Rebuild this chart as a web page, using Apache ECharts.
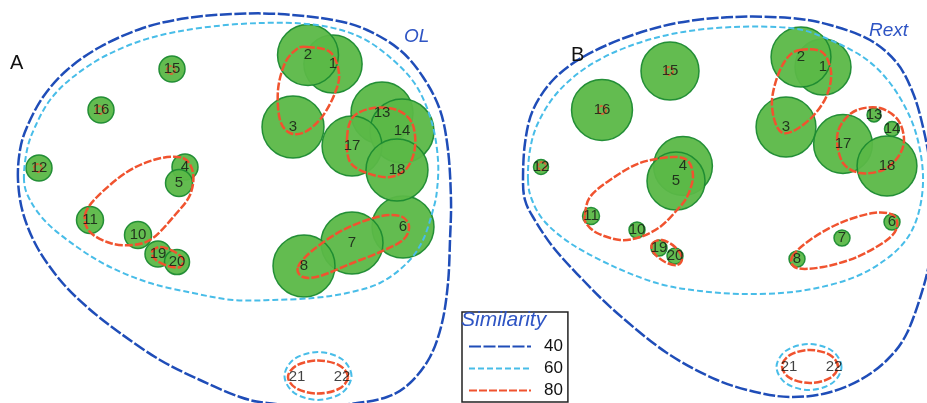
<!DOCTYPE html>
<html>
<head>
<meta charset="utf-8">
<script src="https://cdn.jsdelivr.net/npm/echarts@6/dist/echarts.min.js"></script>
<style>
  html, body { margin: 0; padding: 0; background: #fff; }
  #chart { width: 927px; height: 403px; }
</style>
</head>
<body>
<div id="chart"></div>
<script>
// Sample identifiers (no sample 9)
const samples = ['1','2','3','4','5','6','7','8','10','11','12','13','14','15','16','17','18','19','20','21','22'];

// MDS ordination coordinates and bubble values, panel A (OL)
const olX = [1.01, 0.76, 0.61, -0.47, -0.53, 1.71, 1.20, 0.72, -0.94, -1.42, -1.93, 1.50, 1.70, -0.60, -1.31, 1.20, 1.65, -0.74, -0.55, 0.65, 1.10];
const olY = [1.36, 1.45, 0.73, 0.33, 0.17, -0.27, -0.43, -0.66, -0.35, -0.20, 0.32, 0.87, 0.69, 1.31, 0.90, 0.54, 0.30, -0.54, -0.62, -1.77, -1.77];
const olValue = [53, 58, 60, 10.6, 11.4, 60, 60, 60, 11.4, 11.4, 10.6, 60, 64, 10.6, 10.6, 56, 60, 10.6, 9.8, 0, 0];

// MDS ordination coordinates and bubble values, panel B (Rext)
const rextX = [1.27, 1.05, 0.90, -0.13, -0.20, 1.96, 1.46, 1.01, -0.59, -1.05, -1.55, 1.78, 1.96, -0.26, -0.94, 1.47, 1.91, -0.37, -0.21, 0.93, 1.38];
const rextY = [1.33, 1.43, 0.73, 0.34, 0.19, -0.22, -0.38, -0.59, -0.30, -0.16, 0.33, 0.85, 0.71, 1.29, 0.90, 0.56, 0.34, -0.48, -0.56, -1.67, -1.67];
const rextValue = [49, 56, 56, 54, 52.6, 4, 4, 4, 4, 4.5, 3.5, 3, 3.5, 52.6, 58, 54, 56, 4, 4, 0, 0];

// Similarity contours, panel A
const olContour40 = [[-2.14,0.20],[-2.12,0.50],[-2.05,0.73],[-1.89,1.03],[-1.65,1.30],[-1.32,1.53],[-0.89,1.72],[-0.45,1.82],[0.01,1.86],[0.48,1.86],[1.01,1.80],[1.35,1.70],[1.68,1.50],[1.91,1.23],[2.08,0.90],[2.16,0.50],[2.19,0.00],[2.18,-0.40],[2.16,-0.83],[2.10,-1.23],[1.98,-1.57],[1.78,-1.83],[1.55,-1.97],[1.18,-2.04],[0.78,-2.06],[0.35,-2.03],[0.08,-1.97],[-0.32,-1.80],[-0.72,-1.60],[-1.12,-1.33],[-1.45,-1.07],[-1.72,-0.80],[-1.95,-0.47],[-2.09,-0.13]];
const olContour60 = [
  [[-2.08,0.20],[-2.05,0.50],[-1.97,0.73],[-1.82,1.00],[-1.59,1.23],[-1.25,1.45],[-0.82,1.62],[-0.32,1.72],[0.28,1.77],[0.85,1.75],[1.28,1.63],[1.61,1.40],[1.85,1.13],[2.00,0.77],[2.06,0.40],[2.05,0.10],[2.01,-0.10],[1.91,-0.40],[1.75,-0.63],[1.48,-0.83],[1.15,-0.93],[0.81,-0.98],[0.41,-1.00],[0.01,-1.00],[-0.39,-0.93],[-0.82,-0.83],[-1.22,-0.67],[-1.55,-0.47],[-1.85,-0.23],[-2.02,0.00]],
  [[1.195,-1.76],[1.097,-1.59],[0.86,-1.52],[0.623,-1.59],[0.525,-1.76],[0.623,-1.93],[0.86,-2.00],[1.097,-1.93]]
];
const olContour80 = [
  [[0.75,1.53],[0.98,1.48],[1.07,1.27],[1.03,1.07],[0.90,0.83],[0.73,0.68],[0.58,0.67],[0.48,0.80],[0.46,1.10],[0.53,1.37],[0.65,1.51]],
  [[1.15,0.62],[1.21,0.83],[1.41,0.92],[1.65,0.90],[1.80,0.77],[1.83,0.53],[1.75,0.32],[1.58,0.23],[1.35,0.27],[1.18,0.38]],
  [[0.66,-0.67],[0.81,-0.50],[1.11,-0.30],[1.45,-0.17],[1.68,-0.16],[1.77,-0.26],[1.71,-0.40],[1.48,-0.52],[1.18,-0.64],[0.88,-0.76],[0.71,-0.77]],
  [[-1.47,-0.15],[-1.35,0.03],[-1.05,0.28],[-0.75,0.41],[-0.49,0.42],[-0.39,0.27],[-0.42,0.05],[-0.57,-0.15],[-0.79,-0.38],[-0.99,-0.45],[-1.22,-0.43],[-1.42,-0.32]],
  [[-0.80,-0.52],[-0.72,-0.47],[-0.59,-0.51],[-0.49,-0.59],[-0.52,-0.67],[-0.64,-0.66],[-0.76,-0.60]],
  [[1.16,-1.77],[1.072,-1.653],[0.86,-1.605],[0.648,-1.653],[0.56,-1.77],[0.648,-1.887],[0.86,-1.935],[1.072,-1.887]]
];
// single-sample groups at 80% similarity, panel A
const olSingles80 = [[-0.61,1.30],[-1.32,0.90],[-1.94,0.32]];

// Similarity contours, panel B
const rextContour40 = [[-1.73,0.20],[-1.71,0.57],[-1.63,0.90],[-1.43,1.20],[-1.13,1.43],[-0.69,1.63],[-0.19,1.77],[0.37,1.83],[0.94,1.82],[1.34,1.75],[1.74,1.60],[2.01,1.37],[2.17,1.07],[2.27,0.73],[2.34,0.35],[2.37,-0.10],[2.35,-0.50],[2.28,-0.85],[2.11,-1.33],[1.91,-1.60],[1.64,-1.80],[1.31,-1.93],[0.97,-1.97],[0.64,-1.93],[0.21,-1.80],[-0.29,-1.53],[-0.79,-1.13],[-1.13,-0.80],[-1.43,-0.47],[-1.63,-0.17],[-1.71,0.00]];
const rextContour60 = [
  [[-1.68,0.20],[-1.66,0.50],[-1.58,0.77],[-1.39,1.07],[-1.09,1.33],[-0.69,1.53],[-0.19,1.67],[0.37,1.73],[0.94,1.72],[1.27,1.63],[1.67,1.43],[1.94,1.17],[2.14,0.83],[2.24,0.50],[2.27,0.17],[2.22,-0.15],[2.10,-0.40],[1.89,-0.60],[1.59,-0.77],[1.21,-0.88],[0.85,-0.93],[0.44,-0.94],[0.04,-0.91],[-0.36,-0.84],[-0.79,-0.68],[-1.23,-0.45],[-1.51,-0.22],[-1.64,0.00]],
  [[1.455,-1.67],[1.36,-1.507],[1.13,-1.44],[0.90,-1.507],[0.805,-1.67],[0.90,-1.833],[1.13,-1.90],[1.36,-1.833]]
];
const rextContour80 = [
  [[1.04,1.50],[1.26,1.48],[1.35,1.28],[1.31,1.05],[1.18,0.85],[1.01,0.71],[0.87,0.67],[0.79,0.78],[0.76,1.00],[0.82,1.25],[0.92,1.43]],
  [[1.41,0.60],[1.46,0.77],[1.61,0.90],[1.84,0.92],[2.02,0.80],[2.08,0.60],[2.02,0.43],[1.87,0.30],[1.64,0.27],[1.47,0.37]],
  [[0.96,-0.57],[1.14,-0.40],[1.44,-0.23],[1.77,-0.13],[1.97,-0.15],[2.01,-0.27],[1.91,-0.40],[1.61,-0.57],[1.27,-0.67],[1.01,-0.68]],
  [[-1.11,-0.15],[-1.06,0.03],[-0.86,0.20],[-0.56,0.37],[-0.23,0.43],[-0.08,0.39],[-0.03,0.23],[-0.09,0.03],[-0.19,-0.10],[-0.36,-0.27],[-0.56,-0.37],[-0.76,-0.40],[-0.99,-0.33],[-1.10,-0.23]],
  [[-0.44,-0.44],[-0.34,-0.40],[-0.21,-0.47],[-0.14,-0.58],[-0.19,-0.65],[-0.31,-0.62],[-0.42,-0.53]],
  [[1.42,-1.665],[1.338,-1.548],[1.14,-1.50],[0.942,-1.548],[0.86,-1.665],[0.942,-1.782],[1.14,-1.83],[1.338,-1.782]]
];
const rextSingles80 = [[-0.27,1.29],[-0.94,0.90],[-1.54,0.34]];

const levels = ['40', '60', '80'];

// Line styles of each similarity level
const levelStyle = {
  '40': { color: '#1f4db8', width: 2.5, dash: [12, 2.5] },
  '60': { color: '#48bde8', width: 2, dash: [6, 3] },
  '80': { color: '#f0532f', width: 2.5, dash: [8, 2] }
};

const FONT = '"Liberation Sans", Arial, sans-serif';

function bubbleSeries(xs, ys, vals, gi) {
  return {
    type: 'scatter', xAxisIndex: gi, yAxisIndex: gi, z: 2, silent: true,
    data: samples.map((s, i) => ({ name: s, value: [xs[i], ys[i], vals[i]] })),
    symbolSize: v => 8 * Math.sqrt(v[2]),
    itemStyle: { color: '#5bb847', borderColor: '#1b8a30', borderWidth: 1.5, opacity: 0.95 }
  };
}

function labelSeries(xs, ys, gi) {
  return {
    type: 'scatter', xAxisIndex: gi, yAxisIndex: gi, z: 6, silent: true,
    data: samples.map((s, i) => ({ name: s, value: [xs[i], ys[i]] })),
    symbolSize: 2,
    itemStyle: { color: 'rgba(0,0,0,0)' },
    label: {
      show: true, position: 'inside', formatter: p => p.name,
      color: '#111', fontSize: 15, fontFamily: FONT
    }
  };
}

// Closed Catmull-Rom curve through the contour points (in pixel space)
function closedCurvePath(p) {
  const n = p.length;
  let d = 'M' + p[0][0] + ' ' + p[0][1];
  for (let i = 0; i < n; i++) {
    const p0 = p[(i - 1 + n) % n], p1 = p[i], p2 = p[(i + 1) % n], p3 = p[(i + 2) % n];
    const c1x = p1[0] + (p2[0] - p0[0]) / 6, c1y = p1[1] + (p2[1] - p0[1]) / 6;
    const c2x = p2[0] - (p3[0] - p1[0]) / 6, c2y = p2[1] - (p3[1] - p1[1]) / 6;
    d += 'C' + c1x + ' ' + c1y + ' ' + c2x + ' ' + c2y + ' ' + p2[0] + ' ' + p2[1];
  }
  return d + 'Z';
}

function contourSeries(points, level, gi) {
  const st = levelStyle[level];
  return {
    type: 'custom', xAxisIndex: gi, yAxisIndex: gi, silent: true,
    name: 'contour-' + level,
    z: level === '80' ? 4 : 3,
    data: points,
    renderItem: function (params, api) {
      if (params.dataIndex !== 0) return null;
      const pts = points.map(q => api.coord(q));
      return {
        type: 'path',
        shape: { pathData: closedCurvePath(pts) },
        style: { fill: 'none', stroke: st.color, lineWidth: st.width, lineDash: st.dash }
      };
    }
  };
}

function singlesSeries(points, gi) {
  const st = levelStyle['80'];
  return {
    type: 'scatter', xAxisIndex: gi, yAxisIndex: gi, z: 4, silent: true,
    data: points, symbolSize: 8,
    itemStyle: { color: 'rgba(0,0,0,0)', borderColor: st.color, borderWidth: 2, borderType: [3, 1] }
  };
}

const series = [];
series.push(bubbleSeries(olX, olY, olValue, 0));
series.push(bubbleSeries(rextX, rextY, rextValue, 1));
series.push(contourSeries(olContour40, '40', 0));
olContour60.forEach(c => series.push(contourSeries(c, '60', 0)));
olContour80.forEach(c => series.push(contourSeries(c, '80', 0)));
series.push(singlesSeries(olSingles80, 0));
series.push(contourSeries(rextContour40, '40', 1));
rextContour60.forEach(c => series.push(contourSeries(c, '60', 1)));
rextContour80.forEach(c => series.push(contourSeries(c, '80', 1)));
series.push(singlesSeries(rextSingles80, 1));
series.push(labelSeries(olX, olY, 0));
series.push(labelSeries(rextX, rextY, 1));
// empty line series that carry the legend entries
levels.forEach(l => series.push({
  type: 'line', name: l, xAxisIndex: 0, yAxisIndex: 0, data: [], symbol: 'none',
  itemStyle: { color: levelStyle[l].color },
  lineStyle: { color: levelStyle[l].color, width: levelStyle[l].width, type: levelStyle[l].dash }
}));

const titleText = { fontWeight: 'normal', fontFamily: FONT };
const option = {
  animation: false,
  backgroundColor: '#fff',
  title: [
    { text: 'A', left: 10, top: 53, padding: 0, textStyle: Object.assign({ fontSize: 20, color: '#111' }, titleText) },
    { text: 'B', left: 571, top: 45, padding: 0, textStyle: Object.assign({ fontSize: 20, color: '#111' }, titleText) },
    { text: 'OL', left: 404, top: 27, padding: 0, textStyle: Object.assign({ fontSize: 19, color: '#2f55c4', fontStyle: 'italic' }, titleText) },
    { text: 'Rext', left: 869, top: 21, padding: 0, textStyle: Object.assign({ fontSize: 19, color: '#2f55c4', fontStyle: 'italic' }, titleText) },
    { text: 'Similarity', left: 461, top: 310, padding: 0, z: 10, textStyle: Object.assign({ fontSize: 21, color: '#2f55c4', fontStyle: 'italic' }, titleText) }
  ],
  legend: {
    data: levels, orient: 'vertical', left: 462, top: 312,
    padding: [26, 5, 3, 6], itemGap: 5, itemWidth: 62, itemHeight: 14,
    borderColor: '#222', borderWidth: 1.5, backgroundColor: '#fff',
    selectedMode: false, z: 4,
    itemStyle: { opacity: 0 },
    textStyle: { fontSize: 17, color: '#111', fontFamily: FONT, padding: [0, 0, 0, 8] }
  },
  grid: [
    { left: 0, top: 0, width: 464, height: 403 },
    { left: 464, top: 0, width: 463, height: 403 }
  ],
  xAxis: [
    { type: 'value', gridIndex: 0, min: -2.32, max: 2.32, show: false },
    { type: 'value', gridIndex: 1, min: -2.32, max: 2.31, show: false }
  ],
  yAxis: [
    { type: 'value', gridIndex: 0, min: -2.03, max: 2.00, show: false },
    { type: 'value', gridIndex: 1, min: -2.03, max: 2.00, show: false }
  ],
  series: series
};

const chart = echarts.init(document.getElementById('chart'));
chart.setOption(option);
</script>
</body>
</html>
